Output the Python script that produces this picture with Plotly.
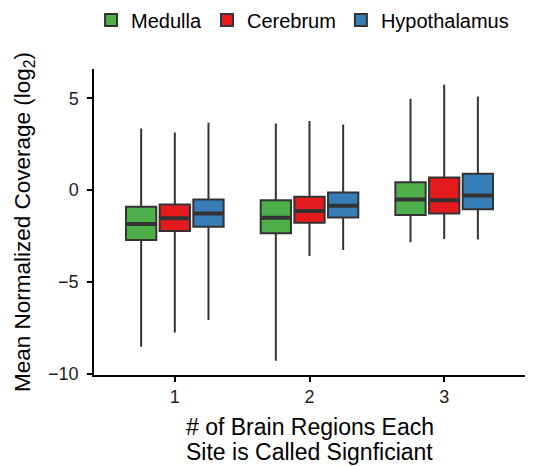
import plotly.graph_objects as go

categories = ["1", "2", "3"]
series = ["Medulla", "Cerebrum", "Hypothalamus"]
colors = ["#4DAF4A", "#E41A1C", "#377EB8"]

# per series: values for categories 1,2,3
upper = {
    "Medulla": [3.36, 3.63, 4.98],
    "Cerebrum": [3.14, 3.76, 5.74],
    "Hypothalamus": [3.67, 3.58, 5.10],
}
q3 = {
    "Medulla": [-0.91, -0.55, 0.42],
    "Cerebrum": [-0.78, -0.36, 0.69],
    "Hypothalamus": [-0.51, -0.13, 0.89],
}
median = {
    "Medulla": [-1.85, -1.51, -0.51],
    "Cerebrum": [-1.54, -1.14, -0.55],
    "Hypothalamus": [-1.27, -0.85, -0.29],
}
q1 = {
    "Medulla": [-2.72, -2.36, -1.36],
    "Cerebrum": [-2.23, -1.78, -1.27],
    "Hypothalamus": [-2.00, -1.49, -1.04],
}
lower = {
    "Medulla": [-8.54, -9.30, -2.85],
    "Cerebrum": [-7.76, -3.60, -2.67],
    "Hypothalamus": [-7.08, -3.27, -2.69],
}

y_ticks = [5, 0, -5, -10]
y_tick_text = ["5", "0", "\u22125", "\u221210"]
x_title_lines = ["# of Brain Regions Each", "Site is Called Signficiant"]

fig = go.Figure()
for s, c in zip(series, colors):
    fig.add_trace(go.Box(
        name=s,
        x=categories,
        q1=q1[s], median=median[s], q3=q3[s],
        lowerfence=lower[s], upperfence=upper[s],
        fillcolor=c,
        line=dict(color="#333333", width=2),
        whiskerwidth=0,
        boxpoints=False,
        offsetgroup=s,
        hoverinfo="skip",
    ))
# thicker median bars (ggplot style)
for s in series:
    fig.add_trace(go.Box(
        name=s + " median",
        x=categories,
        q1=median[s], median=median[s], q3=median[s],
        lowerfence=median[s], upperfence=median[s],
        fillcolor="rgba(0,0,0,0)",
        line=dict(color="#333333", width=4),
        whiskerwidth=0,
        boxpoints=False,
        offsetgroup=s,
        showlegend=False,
        hoverinfo="skip",
    ))

font = "Liberation Sans, Arial, Helvetica, sans-serif"
# the page body adds an 8px margin, so the figure is 8px smaller than the window
fig.update_layout(
    width=526, height=458,
    boxmode="group", boxgap=0.25, boxgroupgap=0.1,
    plot_bgcolor="white", paper_bgcolor="white",
    margin=dict(l=86, r=9, t=61, b=91, autoexpand=False),
    font=dict(family=font, size=20, color="black"),
    showlegend=True,
    legend=dict(orientation="h", x=0.56, xanchor="center", xref="container",
                y=0.974, yanchor="middle", yref="container",
                font=dict(size=20), traceorder="normal", itemwidth=30),
    xaxis=dict(
        type="category", range=[-0.6, 2.6], automargin=False,
        showline=True, linecolor="black", linewidth=1.5,
        ticks="outside", ticklen=5, tickwidth=1.5, tickcolor="black",
        tickfont=dict(size=18, color="#222"),
        showgrid=False, zeroline=False,
    ),
    yaxis=dict(
        range=[-10.08, 6.6], automargin=False,
        tickvals=y_ticks, ticktext=y_tick_text,
        showline=True, linecolor="black", linewidth=1.5,
        ticks="outside", ticklen=5, tickwidth=1.5, tickcolor="black",
        ticklabelstandoff=5,
        tickfont=dict(size=18, color="#222"),
        showgrid=False, zeroline=False,
        title=dict(text="Mean Normalized Coverage (log<sub>2</sub>)",
                   font=dict(size=22.5), standoff=11),
    ),
)
for i, t in enumerate(x_title_lines):
    fig.add_annotation(text=t, xref="paper", yref="paper", x=0.5,
                       y=-0.17 - i * 0.082, yanchor="middle", xanchor="center",
                       showarrow=False, font=dict(size=23))

fig.write_html("out.html")
